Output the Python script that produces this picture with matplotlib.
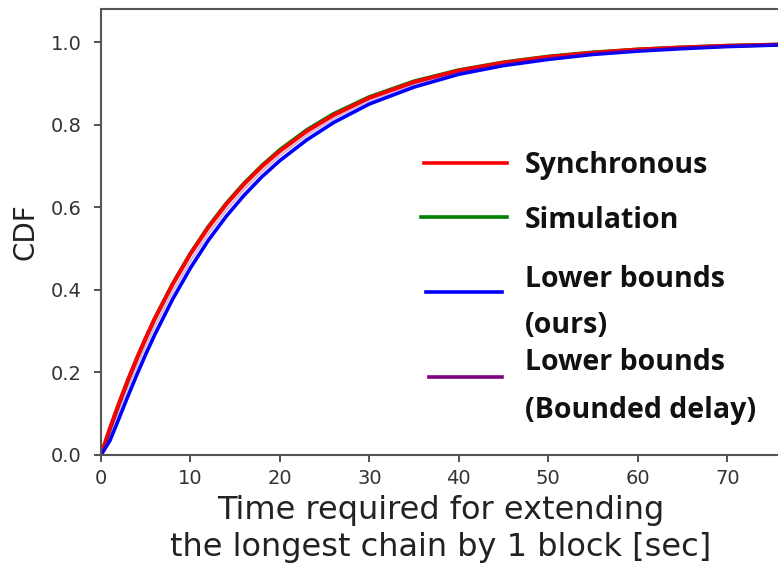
import matplotlib
matplotlib.use("Agg")
import matplotlib.pyplot as plt
from matplotlib.lines import Line2D

# ------------------------------------------------------------
# Data
# ------------------------------------------------------------
t = [0, 1, 2, 3, 4, 5, 6, 8, 10, 12, 14, 16, 18, 20, 23, 26, 30,
     35, 40, 45, 50, 55, 60, 65, 70, 76]

cdf_sync = [0.000, 0.065, 0.125, 0.181, 0.234, 0.283, 0.330, 0.413, 0.487,
            0.551, 0.607, 0.656, 0.699, 0.736, 0.784, 0.823, 0.865, 0.903,
            0.931, 0.950, 0.964, 0.974, 0.982, 0.987, 0.991, 0.994]
cdf_sim = [0.000, 0.063, 0.123, 0.180, 0.233, 0.283, 0.330, 0.414, 0.488,
           0.553, 0.609, 0.658, 0.701, 0.739, 0.787, 0.826, 0.867, 0.905,
           0.932, 0.951, 0.965, 0.975, 0.982, 0.987, 0.991, 0.994]
cdf_lb_ours = [0.000, 0.035, 0.088, 0.142, 0.194, 0.244, 0.291, 0.377, 0.453,
               0.520, 0.578, 0.629, 0.674, 0.713, 0.763, 0.805, 0.850, 0.891,
               0.922, 0.943, 0.958, 0.970, 0.978, 0.984, 0.989, 0.993]
cdf_lb_bounded = [0.000, 0.052, 0.108, 0.163, 0.215, 0.264, 0.311, 0.395,
                  0.470, 0.536, 0.593, 0.643, 0.687, 0.725, 0.774, 0.814,
                  0.858, 0.897, 0.927, 0.947, 0.961, 0.972, 0.980, 0.986,
                  0.990, 0.994]

labels = ["Synchronous", "Simulation", "Lower bounds\n(ours)",
          "Lower bounds\n(Bounded delay)"]
colors = ["red", "green", "blue", "purple"]

x_ticks = [0, 10, 20, 30, 40, 50, 60, 70]
y_ticks = [0.0, 0.2, 0.4, 0.6, 0.8, 1.0]

# ------------------------------------------------------------
# Figure
# ------------------------------------------------------------
W, H = 778, 570
fig = plt.figure(figsize=(W / 100, H / 100), dpi=100)
ax = fig.add_axes([101 / W, (H - 455) / H, (780 - 101) / W, (455 - 9) / H])

ax.plot(t, cdf_sim, color=colors[1], lw=2.8)
ax.plot(t, cdf_sync, color=colors[0], lw=2.8)
ax.plot(t, cdf_lb_ours, color=colors[2], lw=2.6)
ax.plot(t, cdf_lb_bounded, color=colors[3], lw=1.6, alpha=0.3)

ax.set_xlim(0, 75.9)
ax.set_ylim(0, 1.08)
ax.set_xticks(x_ticks)
ax.set_yticks(y_ticks)
ax.set_yticklabels([f"{v:.1f}" for v in y_ticks])
ax.tick_params(labelsize=14, length=5, width=1.2, colors="#333333")
ax.tick_params(axis="y", pad=9)
ax.tick_params(axis="x", pad=5)
for s in ax.spines.values():
    s.set_linewidth(1.5)
    s.set_color("#555555")

ax.set_xlabel("Time required for extending\nthe longest chain by 1 block [sec]",
              fontsize=23, linespacing=1.25, color="#222222", labelpad=5)
ax.set_ylabel("CDF", fontsize=20, color="#222222", labelpad=8)

# Hand-placed legend (pixel positions from the reference)
legend_rows = [
    # handle y, handle x0, x1, text baseline(s)
    (163, 424, 507, [173]),
    (217, 421, 507, [228]),
    (292, 426, 502, [287, 333]),
    (377, 429, 502, [370, 418]),
]
for (hy, x0, x1, bases), lab, col in zip(legend_rows, labels, colors):
    fig.add_artist(Line2D([x0 / W, x1 / W], [1 - hy / H, 1 - hy / H],
                          color=col, lw=2.6, transform=fig.transFigure))
    for line, by in zip(lab.split("\n"), bases):
        fig.text(525 / W, 1 - by / H, line, fontsize=20.5, fontweight="bold",
                 family=["Open Sans", "DejaVu Sans"], color="#111111",
                 va="baseline", ha="left")

fig.savefig("out.png", dpi=100)
